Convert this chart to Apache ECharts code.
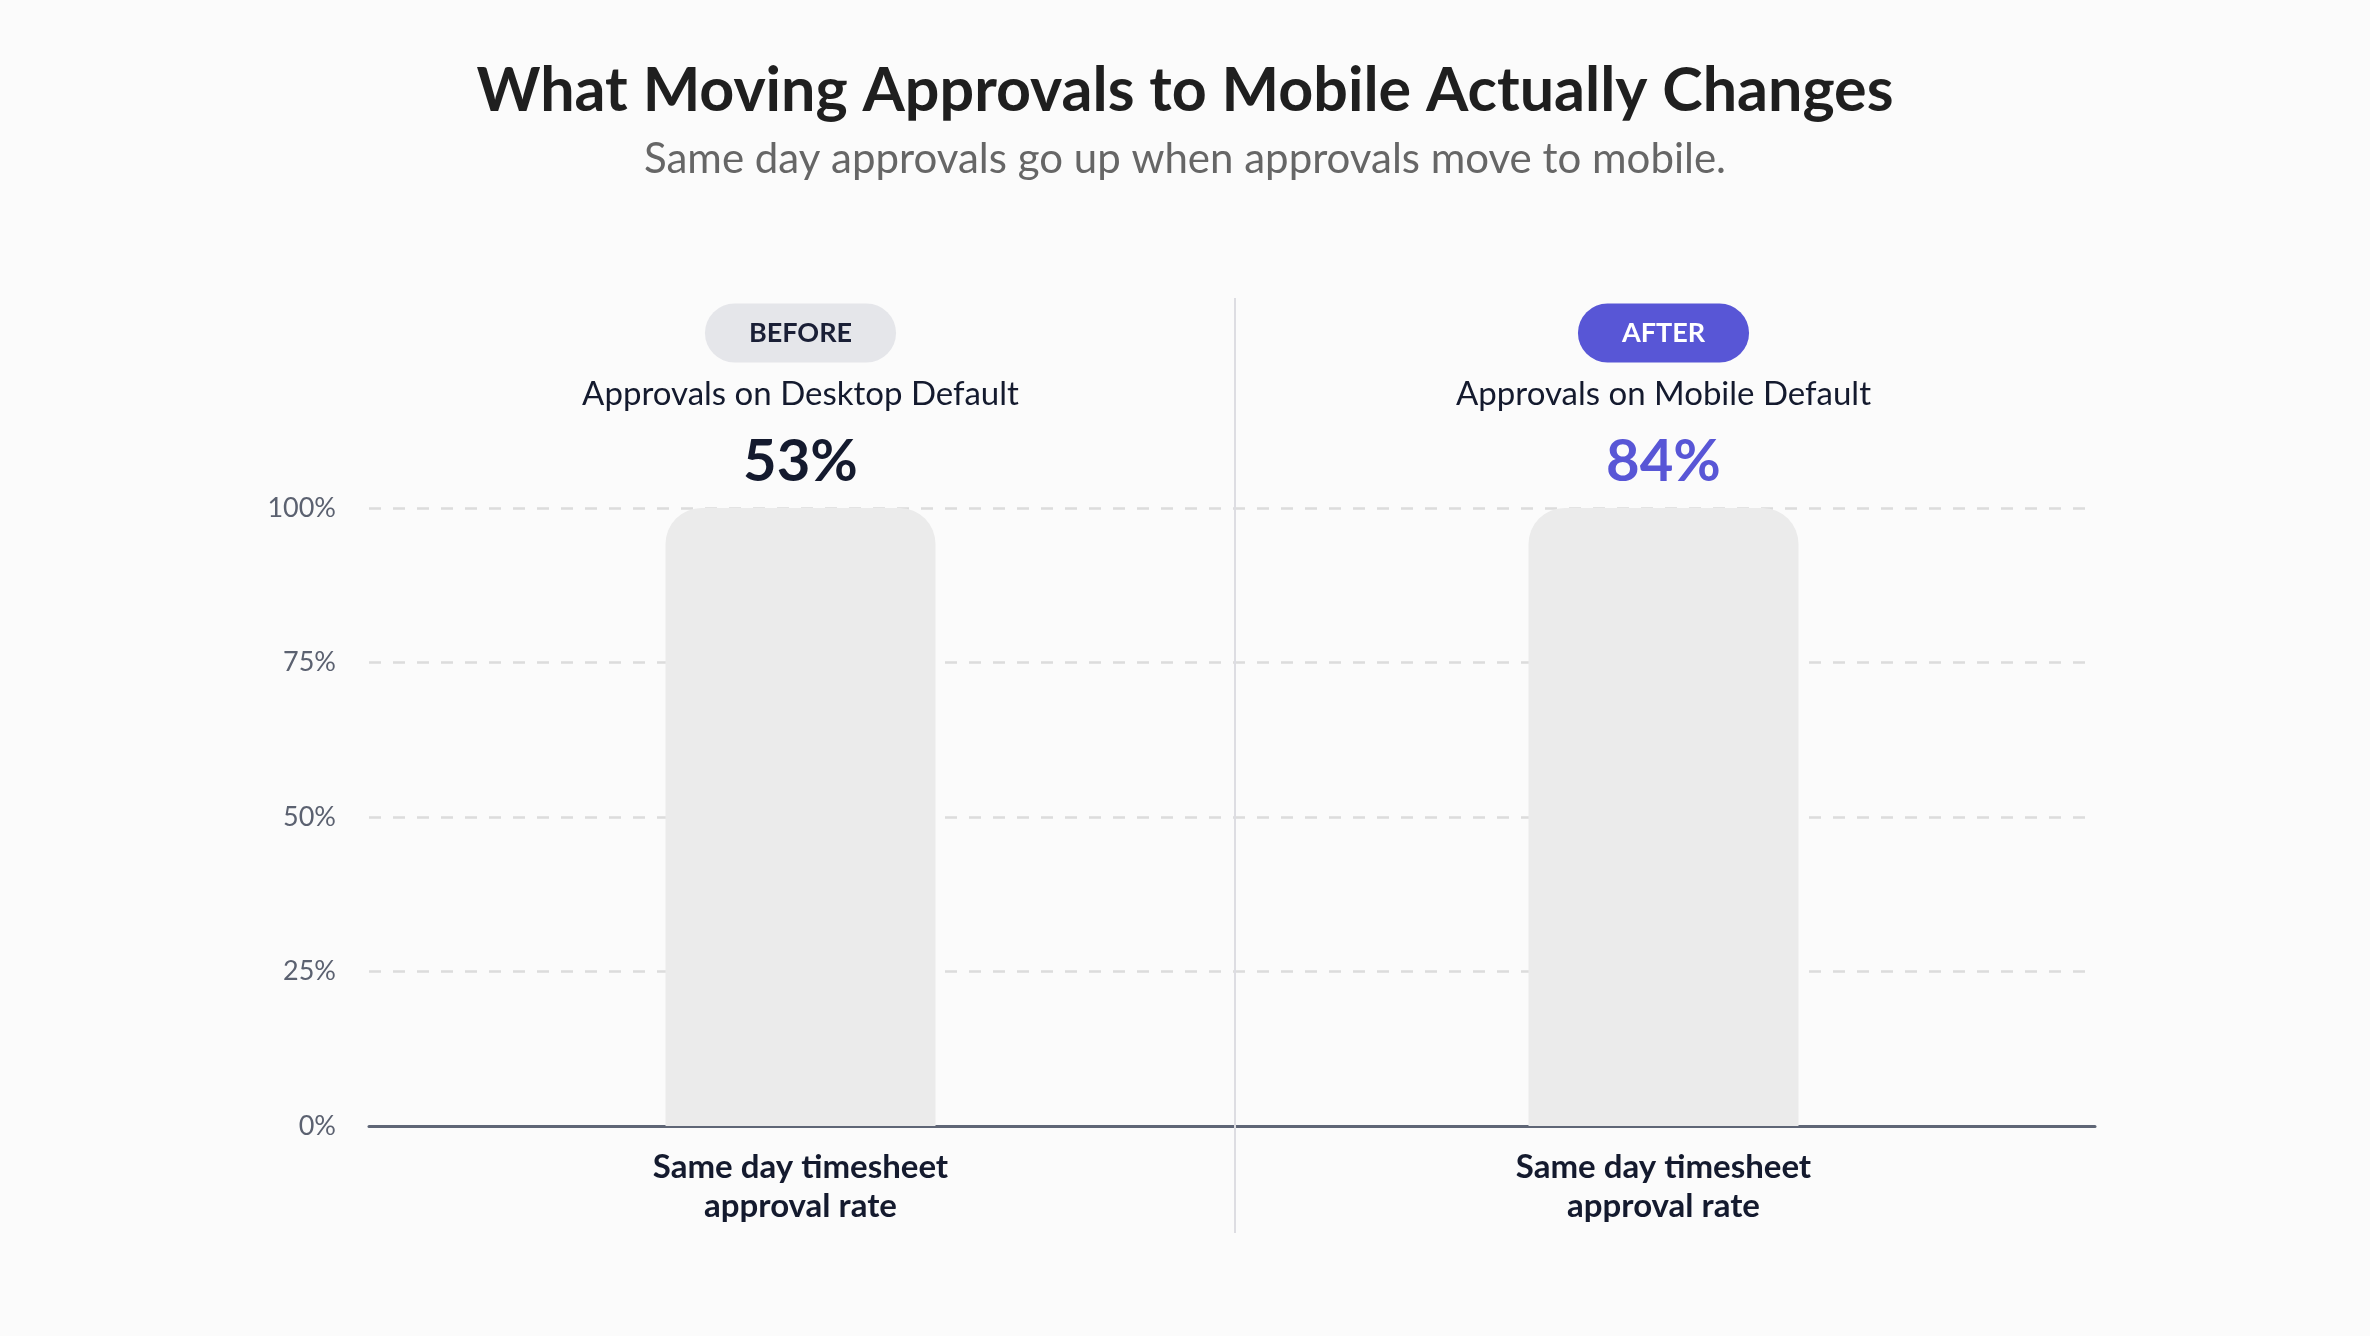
<!DOCTYPE html>
<html lang="en">

<head>
  <meta charset="UTF-8">
  <title>What Moving Approvals to Mobile Actually Changes</title>
  <script src="https://cdn.jsdelivr.net/npm/echarts@6/dist/echarts.min.js"></script>
  <style>
    html, body { margin: 0; padding: 0; background: #fbfbfb; }
  </style>
</head>

<body>
  <div id="main" style="width: 2370px;height:1336px;"></div>
  <script>
    // data
    const categories = ['Same day timesheet\napproval rate', 'Same day timesheet\napproval rate'];
    const phases = ['BEFORE', 'AFTER'];
    const modes = ['Approvals on Desktop Default', 'Approvals on Mobile Default'];
    const rates = [53, 84];
    const yTicks = [0, 25, 50, 75, 100];

    const FONT = 'Lato';
    const PURPLE = '#5856d6';
    const INK = '#141a2e';

    var myChart = echarts.init(document.getElementById('main'));

    const option = {
      backgroundColor: '#fbfbfb',
      animation: false,
      textStyle: { fontFamily: FONT },
      title: {
        text: 'What Moving Approvals to Mobile Actually Changes',
        subtext: 'Same day approvals go up when approvals move to mobile.',
        left: 'center',
        top: 56,
        itemGap: 16,
        textStyle: { fontFamily: FONT, fontSize: 61, fontWeight: 'bold', color: '#1f1f1f' },
        subtextStyle: { fontFamily: FONT, fontSize: 42, color: '#666666' }
      },
      grid: { left: 369, right: 275, top: 508, bottom: 210 },
      xAxis: [{
        type: 'category',
        data: categories,
        axisLine: { lineStyle: { color: '#5f6676', width: 3 } },
        axisTick: { show: false },
        axisLabel: {
          margin: 22, fontFamily: FONT, fontSize: 33, fontWeight: 'bold',
          lineHeight: 39, color: INK
        }
      }, {
        type: 'category',
        position: 'top',
        data: phases,
        axisLine: { show: false },
        axisTick: { show: false },
        axisLabel: {
          margin: 8,
          formatter: function (v, i) {
            return '{badge' + i + '|' + phases[i] + '}\n{desc|' + modes[i] + '}\n{val' + i + '|' + rates[i] + '%}';
          },
          rich: {
            badge0: { fontFamily: FONT, fontSize: 27, fontWeight: 'bold', color: '#1a1f36', backgroundColor: '#e5e6ea', borderRadius: 30, padding: [16, 44], lineHeight: 62 },
            badge1: { fontFamily: FONT, fontSize: 27, fontWeight: 'bold', color: '#ffffff', backgroundColor: PURPLE, borderRadius: 30, padding: [16, 44], lineHeight: 62 },
            desc: { fontFamily: FONT, fontSize: 33, color: INK, lineHeight: 60 },
            val0: { fontFamily: FONT, fontSize: 58, fontWeight: 'bold', color: INK, lineHeight: 76 },
            val1: { fontFamily: FONT, fontSize: 58, fontWeight: 'bold', color: PURPLE, lineHeight: 76 }
          }
        }
      }],
      yAxis: {
        type: 'value',
        min: yTicks[0],
        max: yTicks[yTicks.length - 1],
        interval: yTicks[1] - yTicks[0],
        axisLine: { show: false },
        axisTick: { show: false },
        axisLabel: { formatter: '{value}%', margin: 33, fontFamily: FONT, fontSize: 27, color: '#5b6170' },
        splitLine: { lineStyle: { color: '#dcdcdc', width: 2.5, type: [12, 12] } }
      },
      series: [{
        type: 'bar',
        data: rates,
        barWidth: 270,
        // the filled part isn't visible in the reference, only the tracks
        itemStyle: { color: 'rgba(0,0,0,0)' },
        showBackground: true,
        backgroundStyle: { color: '#ebebeb', borderRadius: [36, 36, 0, 0] }
      }],
      graphic: [{
        type: 'line',
        shape: { x1: 1235, y1: 298, x2: 1235, y2: 1233 },
        style: { stroke: '#dddde2', lineWidth: 2 },
        z: 10
      }]
    };

    myChart.setOption(option);
  </script>
</body>

</html>
